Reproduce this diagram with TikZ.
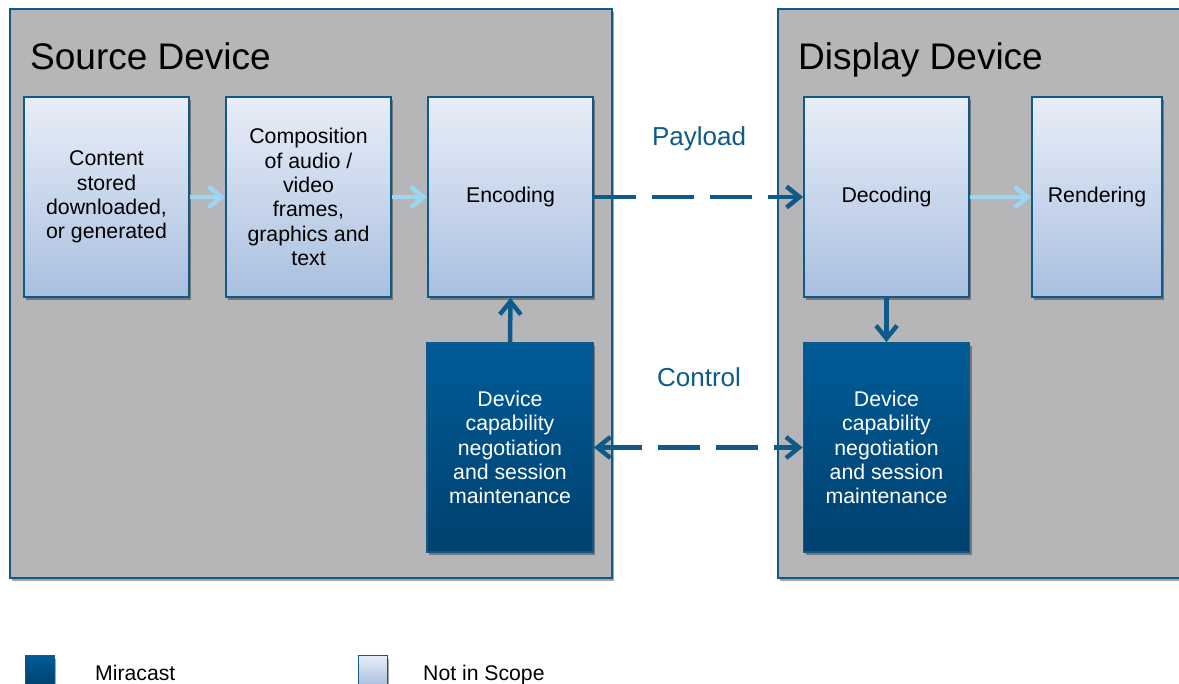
\documentclass[tikz,border=0pt]{standalone}
\usepackage{fontspec}
\setmainfont{Liberation Sans}
\usetikzlibrary{arrows.meta,shadows}
\definecolor{frameblue}{HTML}{0F5A89}
\definecolor{contgray}{HTML}{B6B6B8}
\definecolor{lighttop}{HTML}{E8EEF8}
\definecolor{lightbot}{HTML}{A9BFDF}
\definecolor{darktop}{HTML}{005B97}
\definecolor{darkbot}{HTML}{00416F}
\definecolor{lightarrowc}{HTML}{9DD6F3}
\definecolor{labelblue}{HTML}{0E5A8A}
\tikzset{
  shad/.style={drop shadow={shadow xshift=2pt, shadow yshift=-3pt, opacity=0.35, fill=black}},
  container/.style={draw=frameblue, line width=1.6pt, fill=contgray, shad, anchor=north west},
  lightbox/.style={draw=frameblue, line width=1.8pt, top color=lighttop, bottom color=lightbot, shad,
     minimum width=165pt, minimum height=200pt, align=center, text=black, inner sep=2pt,
     font=\fontsize{21.3}{24.4}\selectfont},
  darkbox/.style={draw=frameblue, line width=1.8pt, top color=darktop, bottom color=darkbot, shad,
     minimum width=166pt, minimum height=209pt, align=center, text=white, inner sep=2pt,
     font=\fontsize{21.3}{24.4}\selectfont},
  titletext/.style={anchor=base west, font=\fontsize{37}{42}\selectfont, inner sep=0pt},
  linklabel/.style={text=labelblue, font=\fontsize{26}{31}\selectfont, inner sep=0pt},
  legendtext/.style={anchor=base west, font=\fontsize{21.2}{24}\selectfont, inner sep=0pt},
  tip/.tip={Straight Barb[length=13pt,width=21pt]},
  lightarrow/.style={draw=lightarrowc, line width=4.5pt, -tip},
  darkarrow/.style={draw=labelblue, line width=4.5pt, -tip},
  dasharrow/.style={draw=labelblue, line width=4.5pt, dash pattern=on 42pt off 16pt},
}
\begin{document}
\begin{tikzpicture}[x=1pt,y=-1pt]
\useasboundingbox (0,0) rectangle (1179,684);
\fill[white] (0,0) rectangle (1179,684);
\begin{scope}
\clip (0,0) rectangle (1179,684);
% containers
\node[container, minimum width=602pt, minimum height=569pt] (src) at (9,8) {};
\node[container, minimum width=460pt, minimum height=569pt] (dst) at (777,8) {};
\node[titletext] (srctitle) at (30,70) {Source Device};
\node[titletext] (dsttitle) at (798,70) {Display Device};
% light boxes
\node[lightbox] (content) at (106.5,197) {Content\\stored\\downloaded,\\or generated};
\node[lightbox] (compo) at (308.5,197) {Composition\\of audio /\\video\\frames,\\graphics and\\text};
\node[lightbox] (enc) at (510.5,197) {Encoding};
\node[lightbox] (dec) at (886.5,197) {Decoding};
\node[lightbox, minimum width=130pt] (rend) at (1097,197) {Rendering};
% dark boxes
\node[darkbox] (msrc) at (510,447.5) {Device\\capability\\negotiation\\and session\\maintenance};
\node[darkbox] (mdst) at (886.5,447.5) {Device\\capability\\negotiation\\and session\\maintenance};
% labels
\node[linklabel] (payload) at (699,139) {Payload};
\node[linklabel] (control) at (699,377) {Control};
% arrows
\draw[lightarrow] (content.east) -- (compo.west);
\draw[lightarrow] (compo.east) -- (enc.west);
\draw[lightarrow] (dec.east) -- (rend.west);
\draw[darkarrow] (msrc.north) -- (enc.south);
\draw[darkarrow] (dec.south) -- (mdst.north);
\draw[dasharrow, -tip] (enc.east) -- (dec.west);
\draw[dasharrow, tip-tip] (msrc.east) -- (mdst.west);
% legend
\node[draw=frameblue, line width=1.2pt, top color=darktop, bottom color=darkbot, shad, minimum width=29pt, minimum height=30pt, anchor=north west, inner sep=0pt] (legdark) at (24.5,655) {};
\node[legendtext] (legdarktext) at (95,680) {Miracast};
\node[draw=frameblue, line width=1.2pt, top color=lighttop, bottom color=lightbot, shad, minimum width=29pt, minimum height=30pt, anchor=north west, inner sep=0pt] (leglight) at (357.5,655) {};
\node[legendtext] (leglighttext) at (423,680) {Not in Scope};
\end{scope}
\end{tikzpicture}
\end{document}
